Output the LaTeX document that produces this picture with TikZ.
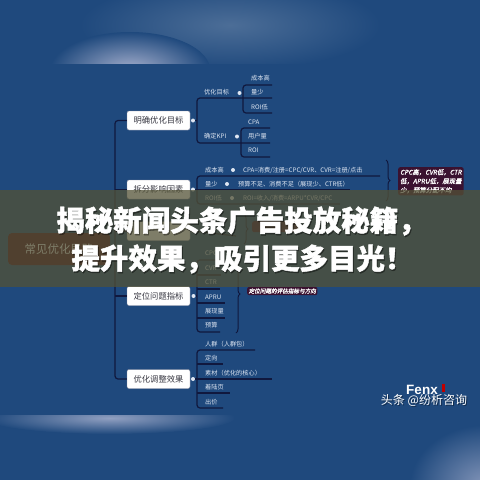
\documentclass[tikz,border=0pt]{standalone}
\usepackage{fontspec}
\setmainfont{Noto Sans CJK SC}
\newfontfamily\latinfont{Liberation Sans}
\newfontfamily\callfont[FakeSlant=0.2,FakeBold=1.2]{Noto Sans CJK SC}
\newfontfamily\titlefont[BoldFeatures={FakeBold=1.6}]{Noto Sans CJK SC}
\usetikzlibrary{decorations.pathreplacing}
\definecolor{bg}{RGB}{31,73,125}
\definecolor{bglight}{RGB}{165,175,205}
\definecolor{ln}{RGB}{16,24,62}
\definecolor{leafc}{RGB}{222,230,242}
\definecolor{boxtxt}{RGB}{55,55,65}
\definecolor{maroon}{RGB}{58,18,48}
\definecolor{rootc}{RGB}{72,12,30}
\definecolor{band}{RGB}{83,82,54}
\tikzset{
  conn/.style={draw=ln, line width=1.2pt, rounded corners=3pt},
  lvl/.style={draw=ln!50, line width=0.4pt, fill=white, rounded corners=2pt,
    minimum width=63pt, minimum height=19pt, inner sep=0pt, text=boxtxt,
    font=\fontsize{8.3}{9}\selectfont},
  rootbox/.style={fill=rootc, rounded corners=4pt, minimum width=102pt,
    minimum height=32pt, inner sep=0pt, text=white, font=\fontsize{11.5}{12}\selectfont},
  leaf/.style={anchor=west, inner sep=0pt, text=leafc, font=\fontsize{6.2}{7}\selectfont},
  dotn/.style={circle, fill=leafc, inner sep=0pt, minimum size=4pt},
  callout/.style={fill=maroon, rounded corners=2pt, text=white, inner sep=2pt,
    align=left, font=\callfont\fontsize{6.4}{9}\selectfont},
  bracefx/.style={draw=ln, line width=1pt, decorate, decoration={brace, amplitude=4pt}},
  titletxt/.style={text=white, inner sep=0pt, font=\titlefont\bfseries\fontsize{28.5}{30}\selectfont},
  titleshadow/.style={text=black, opacity=0.35, inner sep=0pt, font=\titlefont\bfseries\fontsize{28.5}{30}\selectfont}
}
\begin{document}
\begin{tikzpicture}[x=1pt,y=-1pt]
\useasboundingbox (0,0) rectangle (480,480);
\fill[bg] (0,0) rectangle (480,480);
% top blurred band
\begin{scope}
  \clip (0,0) rectangle (480,63);
  \shade[inner color=bg!80!white, outer color=bg] (230,25) ellipse (150pt and 45pt);
  \shade[inner color=bglight, outer color=bg] (130,70) ellipse (80pt and 38pt);
\end{scope}
% bottom blurred band
\begin{scope}
  \clip (0,415) rectangle (480,480);
  \shade[inner color=bglight!85!bg, outer color=bg] (110,418) ellipse (125pt and 16pt);
  \shade[inner color=bglight!75!bg, outer color=bg] (485,485) ellipse (75pt and 60pt);
\end{scope}

% root and level-1 boxes
\node[rootbox] (root) at (59,249) {常见优化思路};
\node[lvl] (b1) at (158.5,120.5) {明确优化目标};
\node[lvl] (b2) at (158.5,189.5) {拆分影响因素};
\node[lvl] (b3) at (158.5,231) {};
\node[lvl] (b4) at (158.5,296) {定位问题指标};
\node[lvl] (b5) at (158.5,379) {优化调整效果};

% trunk
\coordinate (tk1) at (115,120.5);
\coordinate (tk5) at (115,379);
\draw[conn] (b1.west) -- (tk1) -- (tk5) -- (b5.west);
\draw[conn] (115,189.5) -- (b2.west);
\draw[conn] (115,231) -- (b3.west);
\draw[conn] (115,296) -- (b4.west);
\draw[conn] (root.east) -- (115,249);

% branch 1
\node[dotn] (d1) at (193,120.5) {};
\draw[conn] (d1) -- (197,120.5);
\draw[conn] (272,98) -- (197,98) -- (197,143) -- (270,143);
\node[leaf] (o1) at (204,92.5) {优化目标};
\node[dotn] (d11) at (239.5,93) {};
\draw[conn] (272,85) -- (243,85) -- (243,113) -- (272,113);
\node[leaf] (o11) at (251,78) {成本高};
\node[leaf] (o12) at (251,92.5) {量少};
\node[leaf] (o13) at (251,107) {ROI低};
\node[leaf] (o2) at (204,136.5) {确定KPI};
\node[dotn] (d12) at (237,136.5) {};
\draw[conn] (270,128) -- (241,128) -- (241,157) -- (270,157);
\node[leaf] (o21) at (248,122) {CPA};
\node[leaf] (o22) at (248,136.5) {用户量};
\node[leaf] (o23) at (248,150.5) {ROI};

% branch 2
\node[dotn] (d2) at (193,189.5) {};
\draw[conn] (d2) -- (350,189.5);
\draw[conn] (380,176) -- (197,176) -- (197,204) -- (340,204);
\node[leaf] (p1) at (205,170) {成本高};
\node[dotn] (dp1) at (233,170) {};
\node[leaf] (p1a) at (243,170) {CPA=消费/注册=CPC/CVR、CVR=注册/点击};
\node[leaf] (p2) at (205,184) {量少};
\node[dotn] (dp2) at (227,184) {};
\node[leaf] (p2a) at (238,184) {预算不足、消费不足（展现少、CTR低）};
\node[leaf] (p3) at (205,198) {ROI低};
\node[dotn] (dp3) at (232,198) {};
\node[leaf] (p3a) at (243,198) {ROI=收入/消费=ARPU*CVR/CPC};
\coordinate (br1a) at (386,160);
\coordinate (br1b) at (386,201);
\draw[bracefx] (br1a) -- (br1b);
\node[callout, anchor=north west] (c1) at (398,167) {CPC高，CVR低，CTR\\低，APRU低，展现量\\少，预算分配不均};

% branch 3 (hidden under banner)
\node[dotn] (d3) at (193,231) {};
\draw[conn] (d3) -- (236,236);
\coordinate (br3a) at (244,214);
\coordinate (br3b) at (244,244);
\draw[bracefx] (br3a) -- (br3b);
\node[fill=maroon, rounded corners=2pt, minimum width=48pt, minimum height=11pt, anchor=north west] (c2) at (252,221) {};

% branch 4
\node[dotn] (d4) at (193.5,296) {};
\draw[conn] (d4) -- (197,296);
\draw[conn] (220,260) -- (197,260) -- (197,332) -- (220,332);
\draw[conn] (197,275) -- (221,275);
\draw[conn] (197,289) -- (220,289);
\draw[conn] (197,303) -- (225,303);
\draw[conn] (197,318) -- (225,318);
\node[leaf] (q1) at (205,253) {CPC};
\node[leaf] (q2) at (205,268) {CVR};
\node[leaf] (q3) at (205,282) {CTR};
\node[leaf] (q4) at (205,297) {APRU};
\node[leaf] (q5) at (205,311) {展现量};
\node[leaf] (q6) at (205,325) {预算};
\coordinate (br2a) at (236,255);
\coordinate (br2b) at (236,333);
\draw[bracefx] (br2a) -- (br2b);
\node[callout, anchor=west, inner sep=1.5pt, font=\callfont\fontsize{5.6}{6}\selectfont] (c3) at (247,291) {定位问题的评估指标与方向};

% branch 5
\node[dotn] (d5) at (193,379) {};
\draw[conn] (d5) -- (197,379);
\draw[conn] (255,350) -- (197,350) -- (197,408) -- (223,408);
\draw[conn] (197,364) -- (223,364);
\draw[conn] (197,379) -- (272,379);
\draw[conn] (197,393) -- (230,393);
\node[leaf] (r1) at (205,344) {人群（人群包）};
\node[leaf] (r2) at (205,358.5) {定向};
\node[leaf] (r3) at (205,373) {素材（优化的核心）};
\node[leaf] (r4) at (205,387.5) {着陆页};
\node[leaf] (r5) at (205,402) {出价};

% watermark
\node[text=white, inner sep=0pt, font=\latinfont\bfseries\fontsize{13.5}{13.5}\selectfont] (fenx) at (422,390) {Fenx};
\fill[red!75!black] (442,384) rectangle (445,392);
\node[text=black, opacity=0.4, inner sep=0pt, font=\fontsize{12}{12}\selectfont] at (425,401) {头条 @纷析咨询};
\node[text=white, inner sep=0pt, font=\fontsize{12}{12}\selectfont] (wm) at (424,400) {头条 @纷析咨询};

% title banner
\fill[band, opacity=0.75] (0,190) rectangle (480,287);
\node[titleshadow] at (242.5,222.5) {揭秘新闻头条广告投放秘籍，};
\node[titleshadow] at (243.5,260.5) {提升效果，吸引更多目光！};
\node[titletxt] (t1) at (241.5,221) {揭秘新闻头条广告投放秘籍，};
\node[titletxt] (t2) at (242.5,259) {提升效果，吸引更多目光！};
\end{tikzpicture}
\end{document}
